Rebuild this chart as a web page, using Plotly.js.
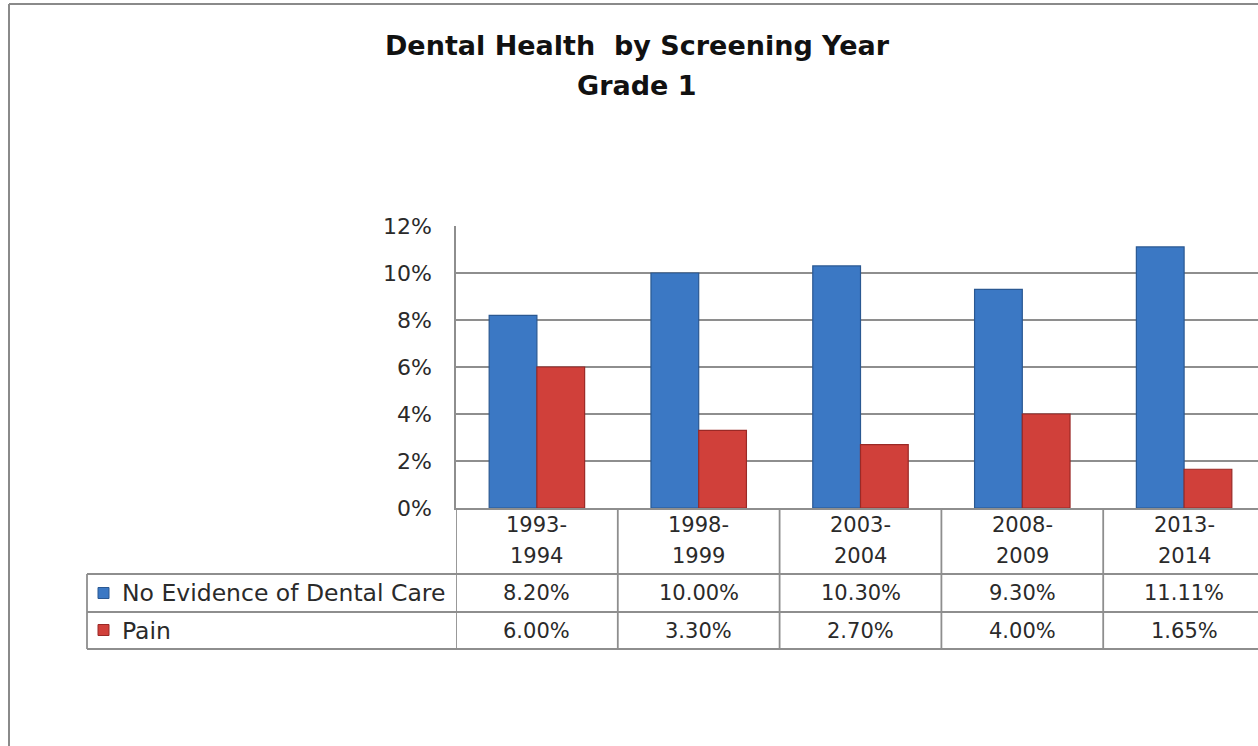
<!DOCTYPE html>
<html>
<head>
<meta charset="utf-8">
<script src="https://cdn.plot.ly/plotly-3.0.1.min.js"></script>
<style>
  html, body { margin: 0; padding: 0; background: #ffffff; overflow: hidden; }
  #chart { width: 1275px; height: 746px; }
</style>
</head>
<body>
<div id="chart"></div>
<script>
// ---- Data ----
const categories = ['1993-1994', '1998-1999', '2003-2004', '2008-2009', '2013-2014'];
const noEvidence = [8.20, 10.00, 10.30, 9.30, 11.11];
const pain = [6.00, 3.30, 2.70, 4.00, 1.65];
const seriesNames = ['No Evidence of Dental Care', 'Pain'];
const yTickVals = [0, 2, 4, 6, 8, 10, 12];
const chartTitle = 'Dental Health\u00a0\u00a0by Screening Year';
const chartSubtitle = 'Grade 1';

// ---- Style ----
const FONT = 'DejaVu Sans';
const TEXT = '#2a2a2a';
const GRID = '#8e8e8e';
const BLUE = '#3b78c4', BLUE_EDGE = '#2a5892';
const RED = '#d0403a', RED_EDGE = '#9a2926';

const W = 1275, H = 746;
const M = { l: 456, r: 10, t: 226, b: 238 };
const plotW = W - M.l - M.r, plotH = H - M.t - M.b;
const px = p => (p - M.l) / plotW;        // page x -> paper x
const py = p => (M.t + plotH - p) / plotH; // page y -> paper y

const traces = [
  { type: 'bar', name: seriesNames[0], x: categories, y: noEvidence,
    marker: { color: BLUE, line: { color: BLUE_EDGE, width: 1.2 } }, hoverinfo: 'x+y' },
  { type: 'bar', name: seriesNames[1], x: categories, y: pain,
    marker: { color: RED, line: { color: RED_EDGE, width: 1.2 } }, hoverinfo: 'x+y' }
];

const lineStyle = { color: GRID, width: 1.8 };
const shapes = [];
// outer frame
shapes.push({ type: 'line', xref: 'paper', yref: 'paper', x0: px(9), x1: px(9), y0: py(4), y1: py(760), line: { color: '#8a8a8a', width: 2 } });
shapes.push({ type: 'line', xref: 'paper', yref: 'paper', x0: px(9), x1: px(1290), y0: py(4), y1: py(4), line: { color: '#8a8a8a', width: 2 } });
// data table horizontal lines
[574, 612, 649].forEach(yy => {
  shapes.push({ type: 'line', xref: 'paper', yref: 'paper', x0: px(87), x1: px(1290), y0: py(yy), y1: py(yy), line: lineStyle });
});
// data table left edge
shapes.push({ type: 'line', xref: 'paper', yref: 'paper', x0: px(87), x1: px(87), y0: py(574), y1: py(649), line: lineStyle });
// category boundaries through the table
for (let i = 0; i <= categories.length; i++) {
  shapes.push({ type: 'line', xref: 'x', yref: 'paper', x0: i - 0.5, x1: i - 0.5, y0: 0, y1: py(649), line: lineStyle });
}
// legend keys
[[593, BLUE, BLUE_EDGE], [630, RED, RED_EDGE]].forEach(([cy, c, e]) => {
  shapes.push({ type: 'rect', xref: 'paper', yref: 'paper', x0: px(98), x1: px(109), y0: py(cy - 5.5), y1: py(cy + 5.5), fillcolor: c, line: { color: e, width: 1 } });
});

const annotations = [];
const tf = { family: FONT, size: 21, color: TEXT };
const lf = { family: FONT, size: 23.5, color: TEXT };
categories.forEach((c, i) => {
  const parts = c.split('-');
  annotations.push({ xref: 'x', yref: 'paper', x: i, y: py(525), text: parts[0] + '-', showarrow: false, xanchor: 'center', yanchor: 'middle', font: tf });
  annotations.push({ xref: 'x', yref: 'paper', x: i, y: py(556), text: parts[1], showarrow: false, xanchor: 'center', yanchor: 'middle', font: tf });
  annotations.push({ xref: 'x', yref: 'paper', x: i, y: py(593), text: noEvidence[i].toFixed(2) + '%', showarrow: false, xanchor: 'center', yanchor: 'middle', font: tf });
  annotations.push({ xref: 'x', yref: 'paper', x: i, y: py(630.5), text: pain[i].toFixed(2) + '%', showarrow: false, xanchor: 'center', yanchor: 'middle', font: tf });
});
annotations.push({ xref: 'paper', yref: 'paper', x: px(120), y: py(593), text: seriesNames[0], showarrow: false, xanchor: 'left', yanchor: 'middle', font: lf });
annotations.push({ xref: 'paper', yref: 'paper', x: px(120), y: py(630.5), text: seriesNames[1], showarrow: false, xanchor: 'left', yanchor: 'middle', font: lf });
// second title line
annotations.push({ xref: 'paper', yref: 'paper', x: px(637), y: py(85), text: chartSubtitle, showarrow: false, xanchor: 'center', yanchor: 'middle',
  font: { family: 'DejaVu Sans', size: 27, color: '#111', weight: 'bold' } });

const layout = {
  width: W, height: H, autosize: false,
  margin: { l: M.l, r: M.r, t: M.t, b: M.b, pad: 0 },
  paper_bgcolor: '#ffffff', plot_bgcolor: '#ffffff',
  showlegend: false,
  barmode: 'group', bargap: 0.41, bargroupgap: 0,
  title: {
    text: chartTitle,
    font: { family: 'DejaVu Sans', size: 27, color: '#111', weight: 'bold' },
    xref: 'container', x: 637 / W, xanchor: 'center',
    yref: 'container', y: 1 - 46 / H, yanchor: 'middle'
  },
  xaxis: {
    type: 'category', showticklabels: false, ticks: '',
    showline: true, linecolor: GRID, linewidth: 1.8, showgrid: false, zeroline: false,
    range: [-0.5, categories.length - 0.5], fixedrange: true
  },
  yaxis: {
    range: [0, 12], tickvals: yTickVals, ticktext: yTickVals.map(v => v + '%'),
    showgrid: true, gridcolor: GRID, gridwidth: 1.8,
    showline: true, linecolor: GRID, linewidth: 1.8, zeroline: false,
    ticks: '', ticklabelstandoff: 18,
    tickfont: { family: FONT, size: 22, color: TEXT }, fixedrange: true
  },
  shapes: shapes,
  annotations: annotations
};

Plotly.newPlot('chart', traces, layout, { displayModeBar: false, staticPlot: true });
</script>
</body>
</html>
